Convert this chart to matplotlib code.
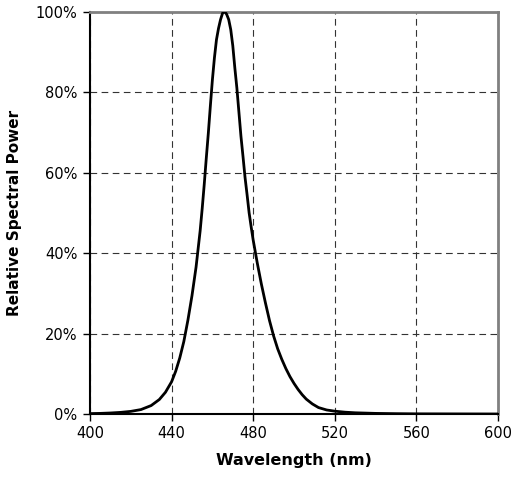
import numpy as np
import matplotlib
matplotlib.use("Agg")
import matplotlib.pyplot as plt
from matplotlib.ticker import FuncFormatter

plt.rcParams['font.family'] = ['DejaVu Sans']

# spectrum (wavelength in nm, relative power in %)
wavelength = [400, 405, 410, 415, 420, 425, 430, 434, 437, 440, 442, 444, 446,
              448, 450, 452, 454, 455, 456, 457, 458, 459, 460, 461, 462, 463,
              464, 465, 466, 467, 468, 469, 470, 471, 472, 473, 474, 475, 476,
              477, 478, 479, 480, 482, 484, 486, 488, 490, 492, 494, 496, 498,
              500, 502, 504, 506, 509, 512, 516, 520, 525, 530, 540, 550, 560, 600]
power = [0.1, 0.15, 0.25, 0.4, 0.65, 1.1, 2.1, 3.6, 5.4, 8.0, 10.6, 13.9, 18.0,
         23.3, 29.4, 36.5, 45.5, 51, 57, 63.5, 69.7, 76.5, 83, 88.5, 93, 95.8,
         98, 99.6, 100, 99.3, 98, 95.5, 91.5, 86, 81, 75, 69, 64, 58.8,
         54.5, 50, 46.5, 43.2, 37.5, 32.3, 27.6, 23.2, 19.4, 16.2, 13.6, 11.3, 9.3,
         7.6, 6.1, 4.8, 3.7, 2.5, 1.6, 1.0, 0.7, 0.45, 0.3, 0.15, 0.08, 0.04, 0.0]

x_ticks = [400, 440, 480, 520, 560, 600]
y_ticks = [0, 20, 40, 60, 80, 100]

fig = plt.figure(figsize=(5.14, 4.80), dpi=100)
ax = fig.add_axes([0.175, 0.1375, 0.794, 0.8385])

ax.plot(wavelength, power, color='black', linewidth=2, zorder=3,
        solid_joinstyle='round')

ax.set_xlim(400, 600)
ax.set_ylim(0, 100)
ax.set_xticks(x_ticks)
ax.set_yticks(y_ticks)
ax.yaxis.set_major_formatter(FuncFormatter(lambda v, p: '%d%%' % v))

ax.grid(True, color='#333333', linestyle=(0, (6, 4)), linewidth=0.8)
ax.set_axisbelow(True)

for s in ['left', 'bottom']:
    ax.spines[s].set_color('black')
    ax.spines[s].set_linewidth(1.5)
for s in ['top', 'right']:
    ax.spines[s].set_color('#808080')
    ax.spines[s].set_linewidth(2)

ax.tick_params(direction='out', length=5, width=1, labelsize=10.5, pad=4)

ax.set_xlabel('Wavelength (nm)', fontsize=11.5, fontweight='bold', labelpad=8)
ax.set_ylabel('Relative Spectral Power', fontsize=11, fontweight='bold', labelpad=10)

fig.savefig('out.png', dpi=100)
